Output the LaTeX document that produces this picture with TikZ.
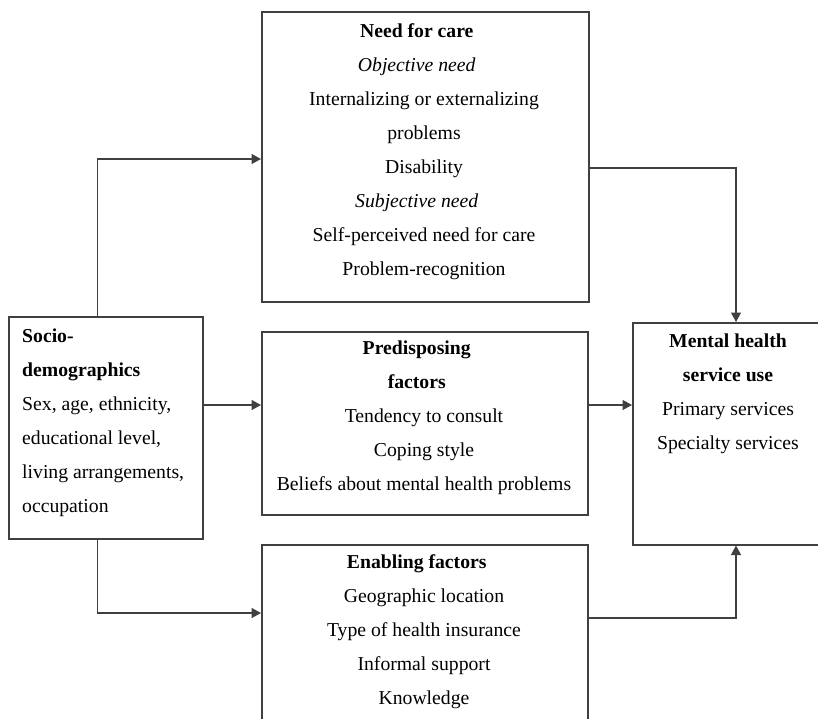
\documentclass[tikz,border=0pt]{standalone}
\usepackage{fontspec}
\setmainfont{Liberation Serif}
\usetikzlibrary{arrows.meta}
\begin{document}
\begin{tikzpicture}[x=1pt,y=-1pt,
  box/.style={draw=black!75,line width=1.5pt,inner sep=0pt,anchor=north west},
  txt/.style={inner sep=0pt,font=\fontsize{19.7}{34}\selectfont},
  arr/.style={draw=black!75,line width=1.3pt,-{Triangle[length=9.5pt,width=10pt]}}]
\clip (0,0) rectangle (818,718);
% boxes
\node[box,minimum width=327pt,minimum height=290pt] (needbox) at (261,11) {};
\node[box,minimum width=194pt,minimum height=222pt] (sociobox) at (8,316) {};
\node[box,minimum width=326pt,minimum height=183pt] (predbox) at (261,331) {};
\node[box,minimum width=326pt,minimum height=230pt] (enabbox) at (261,544) {};
\node[box,minimum width=200pt,minimum height=222pt] (mentalbox) at (632,322) {};
% texts
\node[txt,anchor=north,align=center] (needtxt) at (424,13.2) {\strut\textbf{Need for care}\hbox to 14.5pt{}\\
  \textit{Objective need}\hbox to 14.5pt{}\\
  Internalizing or externalizing\\
  problems\\
  Disability\\
  \textit{Subjective need}\hbox to 14.5pt{}\\
  Self-perceived need for care\\
  Problem-recognition};
\node[txt,anchor=north west,align=left] (sociotxt) at (22,318.2) {\strut\textbf{Socio-}\\
  \textbf{demographics}\\
  Sex, age, ethnicity,\\
  educational level,\\
  living arrangements,\\
  occupation};
\node[txt,anchor=north,align=center] (predtxt) at (424,330.2) {\strut\textbf{Predisposing}\hbox to 14.5pt{}\\
  \textbf{factors}\hbox to 14.5pt{}\\
  Tendency to consult\\
  Coping style\\
  Beliefs about mental health problems};
\node[txt,anchor=north,align=center] (enabtxt) at (424,544.2) {\strut\textbf{Enabling factors}\hbox to 14.5pt{}\\
  Geographic location\\
  Type of health insurance\\
  Informal support\\
  Knowledge};
\node[txt,anchor=north,align=center] (mentaltxt) at (728,323.2) {\strut\textbf{Mental health}\\
  \textbf{service use}\\
  Primary services\\
  Specialty services};
% helper coordinates
\coordinate (rowA) at (0,159);
\coordinate (rowB) at (0,405);
\coordinate (rowC) at (0,613);
\coordinate (rowD) at (0,168);
\coordinate (rowE) at (0,618);
\coordinate (colL) at (97.5,0);
\coordinate (colR) at (736,0);
% connectors
\draw[arr] (sociobox.north -| colL) |- (needbox.west |- rowA);
\draw[arr] (sociobox.south -| colL) |- (enabbox.west |- rowC);
\draw[arr] (sociobox.east |- rowB) -- (predbox.west |- rowB);
\draw[arr] (predbox.east |- rowB) -- (mentalbox.west |- rowB);
\draw[arr] (needbox.east |- rowD) -| (mentalbox.north -| colR);
\draw[arr] (enabbox.east |- rowE) -| (mentalbox.south -| colR);
\end{tikzpicture}
\end{document}
